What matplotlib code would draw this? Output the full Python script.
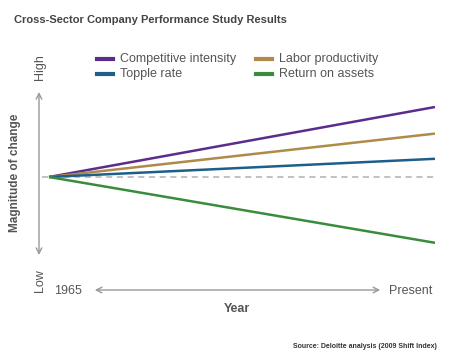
import matplotlib
import matplotlib.pyplot as plt

matplotlib.use("Agg")
plt.rcParams['font.family'] = ['Liberation Sans', 'DejaVu Sans']

# relative magnitude of change, 1965 -> present
periods = ['1965', 'Present']
x_vals = [0, 1]
series = ['Competitive intensity', 'Labor productivity', 'Topple rate', 'Return on assets']
values = [[0, 1.0], [0, 0.62], [0, 0.26], [0, -0.94]]
colors = ['#5a2d8c', '#b08a48', '#1d5f8a', '#3a8c3c']

txt = '#555555'

fig = plt.figure(figsize=(4.51, 3.53), dpi=100)
W, H = 451, 353
ax = fig.add_axes([49 / W, 1 - 255 / H, (435 - 49) / W, (255 - 92) / H])
ax.set_xlim(0, 1)
ax.set_ylim(-78 / 70, 85 / 70)
ax.axis('off')

# zero baseline
ax.plot([-7 / 386, 1], [0, 0], color='#b0b0b0', linestyle=(0, (4, 3)), lw=1.1, clip_on=False)

for vals, c in zip(values, colors):
    ax.plot(x_vals, vals, color=c, lw=1.8, solid_capstyle='butt', clip_on=False)

# vertical arrow
ax.annotate('', xy=(-10 / 386, 85 / 70), xytext=(-10 / 386, -78 / 70), annotation_clip=False,
            arrowprops=dict(arrowstyle='<->', color='#999999', lw=1, mutation_scale=10,
                            shrinkA=0, shrinkB=0))

# legend (manual positions)
leg_pos = [(97, 59), (256, 59), (97, 74), (256, 74)]
for (lx, ly), name, c in zip(leg_pos, series, colors):
    fig.add_artist(plt.Line2D([lx / W, (lx + 16) / W], [1 - ly / H, 1 - ly / H],
                              color=c, lw=3, transform=fig.transFigure))
    fig.text((lx + 23) / W, 1 - ly / H, name, fontsize=9, color=txt, va='center', ha='left')

fig.text(14 / W, 1 - 20 / H, 'Cross-Sector Company Performance Study Results',
         fontsize=8, fontweight='bold', color='#444444', va='center', ha='left')
fig.text(40 / W, 1 - 67 / H, 'High', fontsize=9, color=txt, rotation=90, va='center', ha='center')
fig.text(40 / W, 1 - 281 / H, 'Low', fontsize=9, color=txt, rotation=90, va='center', ha='center')
fig.text(15 / W, 1 - 173 / H, 'Magnitude of change', fontsize=8.5, fontweight='bold', color=txt,
         rotation=90, va='center', ha='center')

# x-axis arrow and labels
fig.text(68 / W, 1 - 291 / H, periods[0], fontsize=9, color=txt, va='center', ha='center')
fig.text(411 / W, 1 - 291 / H, periods[1], fontsize=9, color=txt, va='center', ha='center')
fig.add_artist(matplotlib.patches.FancyArrowPatch((92 / W, 1 - 290 / H), (383 / W, 1 - 290 / H),
                                                  arrowstyle='<->', mutation_scale=10, color='#999999',
                                                  lw=1, transform=fig.transFigure))
fig.text(237 / W, 1 - 309 / H, 'Year', fontsize=9, fontweight='bold', color=txt, va='center', ha='center')
fig.text(437 / W, 1 - 347 / H, 'Source: Deloitte analysis (2009 Shift Index)', fontsize=5,
         fontweight='bold', color='#333333', va='center', ha='right')

fig.savefig('out.png', dpi=100)
